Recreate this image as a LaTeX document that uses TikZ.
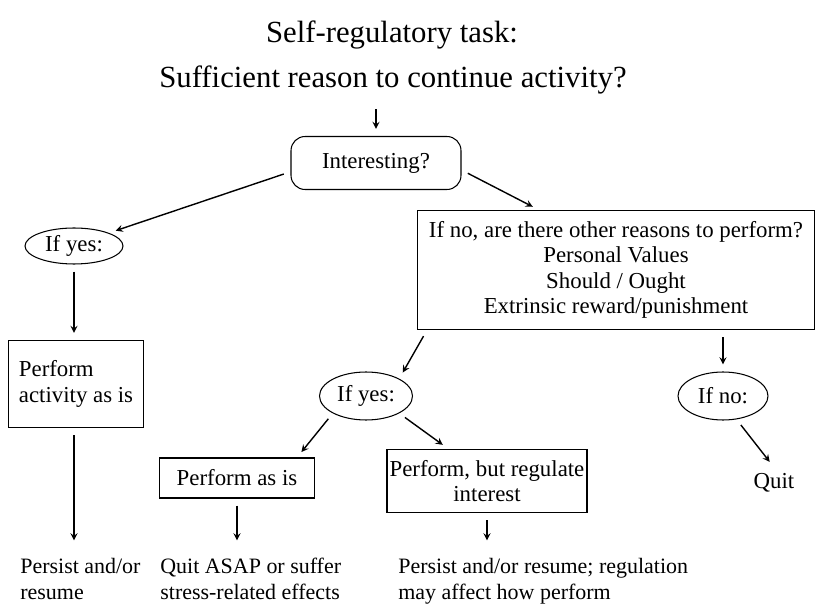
\documentclass[tikz,border=0pt]{standalone}
\usepackage{fontspec}
\setmainfont{Liberation Serif}
\usetikzlibrary{shapes.geometric,calc}

\begin{document}
\begin{tikzpicture}[x=0.02cm,y=-0.02cm,
    every node/.style={font=\fontsize{13}{14.5}\selectfont},
    box/.style={draw,line width=0.6pt,inner sep=0pt},
    oval/.style={draw,ellipse,line width=0.6pt,inner sep=0pt},
    arr/.style={-stealth,line width=0.8pt,shorten <=4pt,shorten >=4pt},
    outcome/.style={align=left,anchor=north west,inner sep=0pt,font=\fontsize{12.5}{14.5}\selectfont}]
    \useasboundingbox (0,0) rectangle (824,607);

    % heading
    \node[font=\fontsize{17.5}{20}\selectfont] (title1) at (392,35) {Self-regulatory task:};
    \node[font=\fontsize{17.5}{20}\selectfont] (title2) at (393,80) {Sufficient reason to continue activity?};
    \node[box,rounded corners=8pt,minimum width=3.4cm,minimum height=1.06cm] (interesting) at (376,163) {Interesting?};
    \draw[arr,shorten <=5pt] (title2.south -| interesting.north) -- (interesting.north);

    % left branch: interesting
    \node[oval,minimum width=1.96cm,minimum height=0.72cm] (yes1) at (74,246) {If yes:};
    \node[box,align=left,minimum width=2.7cm,minimum height=1.74cm] (perform) at (76,384) {Perform\\activity as is};
    \node[outcome] (persist) at (20,558) {Persist and/or\\resume};
    \draw[arr] ([yshift=-5pt]interesting.west) -- (yes1.north east);
    \draw[arr] (yes1) -- (yes1 |- perform.north);
    \draw[arr,shorten >=10pt] (perform.south -| yes1) -- (yes1 |- persist.north);

    % right branch: other reasons
    \node[box,align=center,minimum width=7.94cm,minimum height=2.38cm] (reasons) at (616,270) {If no, are there other reasons to perform?\\Personal Values\\Should / Ought\\Extrinsic reward/punishment};
    \draw[arr] ([yshift=-4pt]interesting.east) -- ($(reasons.north west)+(122,0)$);

    \node[oval,minimum width=1.86cm,minimum height=0.96cm] (yes2) at (366,396) {If yes:};
    \node[box,minimum width=3.1cm,minimum height=0.8cm] (asis) at (237,478) {Perform as is};
    \node[box,align=center,minimum width=4.0cm,minimum height=1.26cm] (regulate) at (487,481) {Perform, but regulate\\interest};
    \node[outcome] (quitasap) at (160,558) {Quit ASAP or suffer\\stress-related effects};
    \node[outcome] (persistreg) at (398,558) {Persist and/or resume; regulation\\may affect how perform};
    \draw[arr] ($(reasons.south west)+(10,0)$) -- (yes2.north east);
    \draw[arr] (yes2.south west) -- ($(asis.north east)+(-18,0)$);
    \draw[arr] (yes2.south east) -- ($(regulate.north west)+(62,0)$);
    \draw[arr,shorten >=10pt] (asis) -- (asis.south |- quitasap.north);
    \draw[arr,shorten >=10pt] (regulate) -- (regulate.south |- persistreg.north);

    \node[oval,minimum width=1.8cm,minimum height=0.96cm] (no) at (723,396) {If no:};
    \node (quit) at (774,483) {Quit};
    \draw[arr] (reasons.south -| no.north) -- (no.north);
    \draw[arr] (no.-60) -- (quit.north);
\end{tikzpicture}
\end{document}
